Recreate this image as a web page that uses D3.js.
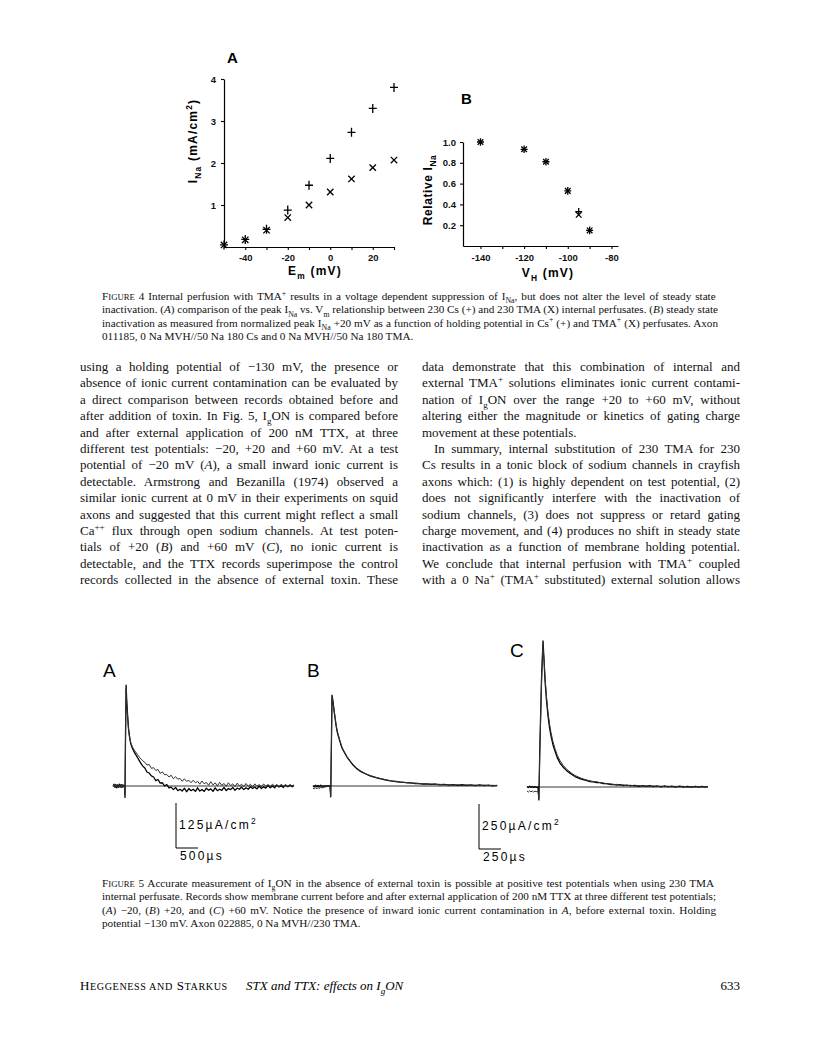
<!DOCTYPE html>
<html>
<head>
<meta charset="utf-8">
<script src="https://cdn.jsdelivr.net/npm/d3@7"></script>
<style>
body{margin:0;background:#fff}
svg{display:block}
</style>
</head>
<body>
<script>
// ---- Figure 4 data ----
const emA = [-50, -40, -30, -20, -10, 0, 10, 20, 30];
const csA = [0.05, 0.18, 0.42, 0.88, 1.47, 2.11, 2.73, 3.30, 3.80];
const tmaA = [0.05, 0.17, 0.40, 0.70, 1.00, 1.31, 1.62, 1.89, 2.07];
const emTicks = [-40, -30, -20, -10, 0, 10, 20, 30];
const emLabels = [-40, -20, 0, 20];
const inaTicks = [1, 2, 3, 4];

const vhB = [-140, -120, -110, -100, -95, -90];
const csB = [1.0, 0.93, 0.81, 0.53, 0.33, 0.15];
const tmaB = [1.0, 0.93, 0.81, 0.53, 0.30, 0.15];
const vhTicks = [-140, -130, -120, -110, -100, -90, -80];
const vhLabels = [-140, -120, -100, -80];
const relTicks = [0.2, 0.4, 0.6, 0.8, 1.0];

// ---- Figure 5 traces: [time µs, current µA/cm2] ----
const traceA1 = [[-270,0],[-250,5],[-230,-4],[-210,4],[-190,-5],[-170,3],[-150,-4],[-130,5],[-110,-3],[-90,4],[-70,-4],[-50,3],[-30,-2],[-10,2],[0,-32],[10,120],[25,280],[40,235],[60,195],[80,160],[100,140],[130,118],[170,104],[220,92],[280,80],[340,67],[400,56],[450,50],[500,39],[550,36],[600,28],[650,25],[700,15],[750,18],[800,8],[850,9],[900,0],[950,4],[1000,-5],[1050,-3],[1100,-10],[1150,-4],[1200,-13],[1250,-9],[1300,-14],[1350,-6],[1400,-16],[1450,-7],[1500,-13],[1550,-9],[1600,-15],[1650,-5],[1700,-14],[1750,-10],[1800,-15],[1850,-6],[1900,-12],[1950,-8],[2000,-15],[2050,-5],[2100,-13],[2150,-9],[2200,-12],[2250,-4],[2300,-13],[2350,-7],[2400,-10],[2450,-4],[2500,-12],[2550,-6],[2600,-9],[2650,-3],[2700,-10],[2750,-5],[2800,-9],[2850,-2],[2900,-7],[2950,-3],[3000,-8],[3050,0],[3100,-7],[3150,-2],[3200,-6],[3250,2],[3300,-5],[3350,0],[3400,-5],[3450,3],[3500,-3],[3550,1],[3600,-4],[3650,3],[3700,-2],[3750,2],[3800,-2],[3840,2]];
const traceA2 = [[-270,-2],[-250,3],[-230,-3],[-210,5],[-190,-3],[-170,4],[-150,-5],[-130,3],[-110,-4],[-90,5],[-70,-3],[-50,4],[-30,-3],[-10,1],[0,-25],[10,110],[25,270],[40,230],[60,190],[80,158],[100,138],[130,120],[170,108],[220,98],[280,88],[340,78],[400,70],[450,66],[500,58],[550,60],[600,49],[650,51],[700,43],[750,46],[800,35],[850,39],[900,31],[950,32],[1000,25],[1050,30],[1100,20],[1150,26],[1200,19],[1250,21],[1300,13],[1350,20],[1400,13],[1450,16],[1500,9],[1550,16],[1600,9],[1650,13],[1700,5],[1750,14],[1800,6],[1850,10],[1900,2],[1950,12],[2000,3],[2050,9],[2100,0],[2150,10],[2200,2],[2250,7],[2300,-1],[2350,9],[2400,1],[2450,6],[2500,-2],[2550,8],[2600,0],[2650,5],[2700,-2],[2750,7],[2800,-1],[2850,5],[2900,-3],[2950,6],[3000,-1],[3050,4],[3100,-2],[3150,6],[3200,-1],[3250,4],[3300,-2],[3350,5],[3400,0],[3450,3],[3500,-2],[3550,5],[3600,0],[3650,3],[3700,-1],[3750,4],[3800,0],[3840,3]];

const traceB1 = [[-193,2],[-180,-5],[-165,4],[-150,-4],[-135,3],[-120,-5],[-105,4],[-90,-2],[-60,0],[-30,1],[0,0],[8,-60],[15,200],[23,505],[34,470],[45,422],[57,380],[68,339],[80,305],[91,283],[114,245],[136,211],[165,185],[193,161],[227,138],[261,117],[300,98],[340,83],[400,68],[455,56],[500,50],[540,44],[580,39],[625,34],[670,30],[710,27],[750,25],[795,21],[840,20],[880,17],[920,17],[960,14],[1000,15],[1050,11],[1100,12],[1150,9],[1200,11],[1250,7],[1300,9],[1350,5],[1400,8],[1450,4],[1500,7],[1550,3],[1600,6],[1650,2],[1700,6],[1750,2],[1800,5],[1850,1],[1900,3]];
const traceB2 = [[-193,-12],[-180,-16],[-165,-10],[-150,-15],[-135,-9],[-120,-14],[-105,-8],[-90,-10],[-60,-6],[-30,-3],[0,-2],[8,-55],[15,190],[23,495],[34,465],[45,425],[57,385],[68,344],[80,312],[91,290],[114,250],[136,216],[165,188],[193,164],[227,141],[261,120],[300,101],[340,86],[400,70],[455,58],[500,51],[540,46],[580,41],[625,36],[670,31],[710,28],[750,25],[795,23],[840,20],[880,19],[920,16],[960,16],[1000,13],[1050,13],[1100,10],[1150,11],[1200,8],[1250,9],[1300,6],[1350,8],[1400,5],[1450,7],[1500,4],[1550,6],[1600,3],[1650,5],[1700,2],[1750,5],[1800,2],[1850,4],[1900,2]];

const traceC1 = [[-125,3],[-110,-3],[-95,4],[-80,-2],[-65,3],[-50,-3],[-35,2],[-20,-2],[0,0],[10,-72],[20,200],[40,600],[57,811],[70,690],[80,589],[97,480],[114,394],[131,330],[148,283],[170,235],[193,200],[220,162],[250,133],[290,108],[330,89],[375,72],[420,58],[490,44],[557,35],[590,30],[630,29],[670,24],[705,24],[740,19],[780,19],[820,14],[855,15],[890,11],[930,13],[970,8],[1010,11],[1050,6],[1100,9],[1150,4],[1190,8],[1230,3],[1270,7],[1310,2],[1350,6],[1400,1],[1440,6],[1480,1],[1520,5],[1560,0],[1610,5],[1650,0],[1700,4],[1740,-1],[1790,4],[1830,-1],[1860,3],[1900,0],[1930,2]];
const traceC2 = [[-125,-22],[-110,-28],[-95,-21],[-80,-27],[-65,-22],[-50,-28],[-35,-23],[-20,-26],[0,-22],[10,-62],[20,180],[40,580],[55,790],[70,700],[80,610],[97,500],[114,415],[131,352],[148,302],[170,252],[193,214],[220,176],[250,146],[290,118],[330,97],[375,79],[420,64],[490,49],[557,38],[590,35],[630,30],[670,29],[705,24],[740,23],[780,18],[820,18],[855,13],[890,15],[930,10],[970,12],[1010,7],[1050,10],[1100,5],[1150,8],[1190,4],[1230,7],[1270,2],[1310,6],[1350,2],[1400,5],[1440,1],[1480,5],[1520,0],[1560,4],[1610,0],[1650,4],[1700,-1],[1740,3],[1790,0],[1830,3],[1860,0],[1900,2],[1930,1]];

// ---- text ----
const cap4 = [
  "F~{IGURE} 4   Internal perfusion with TMA^{+} results in a voltage dependent suppression of I_{Na}, but does not alter the level of steady state",
  "inactivation. (*A*) comparison of the peak I_{Na} vs. V_{m} relationship between 230 Cs (+) and 230 TMA (X) internal perfusates. (*B*) steady state",
  "inactivation as measured from normalized peak I_{Na} +20 mV as a function of holding potential in Cs^{+} (+) and TMA^{+} (X) perfusates. Axon",
  "011185, 0 Na MVH//50 Na 180 Cs and 0 Na MVH//50 Na 180 TMA."
];
const cap5 = [
  "F~{IGURE} 5   Accurate measurement of I_{g}ON in the absence of external toxin is possible at positive test potentials when using 230 TMA",
  "internal perfusate. Records show membrane current before and after external application of 200 nM TTX at three different test potentials;",
  "(*A*) −20, (*B*) +20, and (*C*) +60 mV. Notice the presence of inward ionic current contamination in *A*, before external toxin. Holding",
  "potential −130 mV. Axon 022885, 0 Na MVH//230 TMA."
];
const bodyLeft = [
  "using a holding potential of −130 mV, the presence or",
  "absence of ionic current contamination can be evaluated by",
  "a direct comparison between records obtained before and",
  "after addition of toxin. In Fig. 5, I_{g}ON is compared before",
  "and after external application of 200 nM TTX, at three",
  "different test potentials: −20, +20 and +60 mV. At a test",
  "potential of −20 mV (*A*), a small inward ionic current is",
  "detectable. Armstrong and Bezanilla (1974) observed a",
  "similar ionic current at 0 mV in their experiments on squid",
  "axons and suggested that this current might reflect a small",
  "Ca^{++} flux through open sodium channels. At test poten-",
  "tials of +20 (*B*) and +60 mV (*C*), no ionic current is",
  "detectable, and the TTX records superimpose the control",
  "records collected in the absence of external toxin. These"
];
const bodyRight = [
  "data demonstrate that this combination of internal and",
  "external TMA^{+} solutions eliminates ionic current contami-",
  "nation of I_{g}ON over the range +20 to +60 mV, without",
  "altering either the magnitude or kinetics of gating charge",
  "movement at these potentials.",
  "In summary, internal substitution of 230 TMA for 230",
  "Cs results in a tonic block of sodium channels in crayfish",
  "axons which: (1) is highly dependent on test potential, (2)",
  "does not significantly interfere with the inactivation of",
  "sodium channels, (3) does not suppress or retard gating",
  "charge movement, and (4) produces no shift in steady state",
  "inactivation as a function of membrane holding potential.",
  "We conclude that internal perfusion with TMA^{+} coupled",
  "with a 0 Na^{+} (TMA^{+} substituted) external solution allows"
];

const serif = "'Liberation Serif','Times New Roman',serif";
const sans = "'Liberation Sans',Arial,Helvetica,sans-serif";

const svg = d3.select('body').append('svg')
  .attr('width', 816).attr('height', 1054)
  .style('background', '#fff');

// rich text: _{sub} ^{sup} *italic* ~{smallcaps}
function rich(sel, str, size) {
  const parts = str.split(/(_\{[^}]*\}|\^\{[^}]*\}|\*[^*]*\*|~\{[^}]*\})/).filter(s => s !== '');
  let shift = 0;
  parts.forEach(p => {
    let t = p, dy = 0, fs = null, it = false;
    if (p.startsWith('_{')) { t = p.slice(2, -1); dy = size * 0.3; fs = size * 0.7; }
    else if (p.startsWith('^{')) { t = p.slice(2, -1); dy = -size * 0.4; fs = size * 0.7; }
    else if (p.startsWith('~{')) { t = p.slice(2, -1); fs = size * 0.78; }
    else if (p.startsWith('*')) { t = p.slice(1, -1); it = true; }
    const ts = sel.append('tspan').text(t);
    if (dy - shift !== 0) ts.attr('dy', dy - shift);
    shift = dy;
    if (fs) ts.attr('font-size', fs);
    if (it) ts.attr('font-style', 'italic');
  });
  return sel;
}

function justify(text, width) {
  const n = text.node();
  const len = n.getComputedTextLength();
  const spaces = (n.textContent.match(/ /g) || []).length;
  if (len < width && spaces) text.attr('word-spacing', (width - len) / spaces);
  else if (len > width) text.attr('textLength', width).attr('lengthAdjust', 'spacingAndGlyphs');
}

function textLines(lines, x, y0, step, width, size, noJust, indent) {
  lines.forEach((l, i) => {
    const xi = indent && indent.includes(i) ? x + 12 : x;
    const t = svg.append('text')
      .attr('x', xi).attr('y', y0 + i * step)
      .attr('font-family', serif).attr('font-size', size).attr('fill', '#111');
    rich(t, l, size);
    if (!noJust.includes(i)) justify(t, width - (xi - x));
  });
}

// ================= FIGURE 4 A =================
const xA = d3.scaleLinear().domain([-50, 30]).range([224, 394]);
const yA = d3.scaleLinear().domain([0, 4]).range([247, 79]);

function styleAxis(g) {
  g.attr('font-family', sans).attr('font-size', 9.5).attr('font-weight', 'bold');
  g.select('.domain').attr('stroke', '#000').attr('stroke-width', 1.2);
  g.selectAll('.tick line').attr('stroke', '#000').attr('stroke-width', 1.1);
  g.selectAll('.tick text').attr('fill', '#111');
}

svg.append('g').attr('transform', 'translate(0,247)')
  .call(d3.axisBottom(xA).tickValues(emTicks).tickSize(3).tickSizeOuter(0).tickPadding(4)
    .tickFormat(d => emLabels.includes(d) ? (d < 0 ? '-' + (-d) : d) : ''))
  .call(styleAxis);
svg.append('g').attr('transform', 'translate(224,0)')
  .call(d3.axisLeft(yA).tickValues(inaTicks).tickSize(3).tickSizeOuter(0).tickPadding(5)
    .tickFormat(d3.format('d')))
  .call(styleAxis);

const plusPath = 'M-4,0H4M0,-4.5V4.5';
const xPath = 'M-3.2,-3.2L3.2,3.2M-3.2,3.2L3.2,-3.2';

svg.append('g').selectAll('path').data(emA).join('path')
  .attr('transform', (d, i) => `translate(${xA(d)},${yA(csA[i])})`)
  .attr('d', plusPath).attr('stroke', '#000').attr('stroke-width', 1.3).attr('fill', 'none');
svg.append('g').selectAll('path').data(emA).join('path')
  .attr('transform', (d, i) => `translate(${xA(d)},${yA(tmaA[i])})`)
  .attr('d', xPath).attr('stroke', '#000').attr('stroke-width', 1.3).attr('fill', 'none');

svg.append('text').attr('x', 227).attr('y', 63).text('A')
  .attr('font-family', sans).attr('font-weight', 'bold').attr('font-size', 15);
rich(svg.append('text').attr('transform', 'translate(197,141) rotate(-90)')
  .attr('text-anchor', 'middle').attr('font-family', sans).attr('font-weight', 'bold')
  .attr('font-size', 12).attr('letter-spacing', 1.2), 'I_{Na}  (mA/cm^{2})', 12);
rich(svg.append('text').attr('x', 315).attr('y', 275)
  .attr('text-anchor', 'middle').attr('font-family', sans).attr('font-weight', 'bold')
  .attr('font-size', 12).attr('letter-spacing', 1.2), 'E_{m} (mV)', 12);

// ================= FIGURE 4 B =================
const xB = d3.scaleLinear().domain([-148, -77]).range([463, 618]);
const yB = d3.scaleLinear().domain([0, 1]).range([246, 142]);

svg.append('g').attr('transform', 'translate(0,246)')
  .call(d3.axisBottom(xB).tickValues(vhTicks).tickSize(3).tickSizeOuter(0).tickPadding(5)
    .tickFormat(d => vhLabels.includes(d) ? '-' + (-d) : ''))
  .call(styleAxis);
svg.append('g').attr('transform', 'translate(463,0)')
  .call(d3.axisLeft(yB).tickValues(relTicks).tickSize(3).tickSizeOuter(0).tickPadding(4)
    .tickFormat(d3.format('.1f')))
  .call(styleAxis);

const plusB = 'M-3.5,0H3.5M0,-3.8V3.8';
const xB_ = 'M-2.8,-2.8L2.8,2.8M-2.8,2.8L2.8,-2.8';
svg.append('g').selectAll('path').data(vhB).join('path')
  .attr('transform', (d, i) => `translate(${xB(d)},${yB(csB[i])})`)
  .attr('d', plusB).attr('stroke', '#000').attr('stroke-width', 1.3).attr('fill', 'none');
svg.append('g').selectAll('path').data(vhB).join('path')
  .attr('transform', (d, i) => `translate(${xB(d)},${yB(tmaB[i])})`)
  .attr('d', xB_).attr('stroke', '#000').attr('stroke-width', 1.3).attr('fill', 'none');

svg.append('text').attr('x', 461).attr('y', 104).text('B')
  .attr('font-family', sans).attr('font-weight', 'bold').attr('font-size', 15);
rich(svg.append('text').attr('transform', 'translate(432,190) rotate(-90)')
  .attr('text-anchor', 'middle').attr('font-family', sans).attr('font-weight', 'bold')
  .attr('font-size', 12).attr('letter-spacing', 0.6), 'Relative I_{Na}', 12);
rich(svg.append('text').attr('x', 548).attr('y', 277)
  .attr('text-anchor', 'middle').attr('font-family', sans).attr('font-weight', 'bold')
  .attr('font-size', 12).attr('letter-spacing', 1.2), 'V_{H} (mV)', 12);

// ---- captions and body ----
textLines(cap4, 102, 300, 13.4, 616, 11.2, [3], []);
textLines(bodyLeft, 80, 371, 16.4, 318, 13, [], []);
textLines(bodyRight, 422, 371, 16.4, 318, 13, [4], [5]);
textLines(cap5, 102, 887, 13.4, 614, 11.2, [3], []);

// ================= FIGURE 5 =================
function tracePanel(tScale, iScale, traces, t0, t1) {
  svg.append('line').attr('x1', tScale(t0)).attr('x2', tScale(t1))
    .attr('y1', iScale(0)).attr('y2', iScale(0))
    .attr('stroke', '#000').attr('stroke-width', 0.8);
  const line = d3.line().x(d => tScale(d[0])).y(d => iScale(d[1]));
  traces.forEach((t, k) => {
    svg.append('path').datum(t).attr('d', line).attr('fill', 'none')
      .attr('stroke', k ? '#333' : '#000').attr('stroke-width', k ? 1 : 1.3)
      .attr('stroke-linejoin', 'round');
  });
}

const tA = d3.scaleLinear().domain([0, 500]).range([125, 147]);
const iA = d3.scaleLinear().domain([0, 125]).range([786, 741]);
tracePanel(tA, iA, [traceA1, traceA2], -270, 3840);

const tB = d3.scaleLinear().domain([0, 250]).range([330, 352]);
const iB = d3.scaleLinear().domain([0, 250]).range([786, 741]);
tracePanel(tB, iB, [traceB1, traceB2], -193, 1900);

const tC = d3.scaleLinear().domain([0, 250]).range([538, 560]);
const iC = d3.scaleLinear().domain([0, 250]).range([787, 742]);
tracePanel(tC, iC, [traceC1, traceC2], -125, 1930);

[['A', 103, 677], ['B', 307, 677], ['C', 510, 657]].forEach(([l, x, y]) => {
  svg.append('text').attr('x', x).attr('y', y).text(l)
    .attr('font-family', sans).attr('font-size', 19);
});

// scale bars
function scaleBar(x, yBottom, tScale, tLen, iScale, iLen, iLabel, tLabel) {
  const h = iScale(0) - iScale(iLen);
  const w = tScale(tLen) - tScale(0);
  svg.append('path').attr('d', `M${x},${yBottom - h}V${yBottom}H${x + w}`)
    .attr('fill', 'none').attr('stroke', '#000').attr('stroke-width', 1);
  rich(svg.append('text').attr('x', x + 3).attr('y', yBottom - 19)
    .attr('font-family', sans).attr('font-size', 12).attr('letter-spacing', 2.2), iLabel, 12);
  svg.append('text').attr('x', x + 4).attr('y', yBottom + 12).text(tLabel)
    .attr('font-family', sans).attr('font-size', 12).attr('letter-spacing', 2.2);
}
scaleBar(176, 848, tA, 500, iA, 125, '125µA/cm^{2}', '500µs');
scaleBar(479, 849, tC, 250, iC, 250, '250µA/cm^{2}', '250µs');

// ---- footer ----
rich(svg.append('text').attr('x', 80).attr('y', 990)
  .attr('font-family', serif).attr('font-size', 13).attr('letter-spacing', 0.6),
  'H~{EGGENESS AND} S~{TARKUS}', 13);
rich(svg.append('text').attr('x', 246).attr('y', 990)
  .attr('font-family', serif).attr('font-size', 13).attr('font-style', 'italic'),
  'STX and TTX: effects on I_{g}ON', 13);
svg.append('text').attr('x', 740).attr('y', 990).attr('text-anchor', 'end')
  .attr('font-family', serif).attr('font-size', 13).text('633');
</script>
</body>
</html>
